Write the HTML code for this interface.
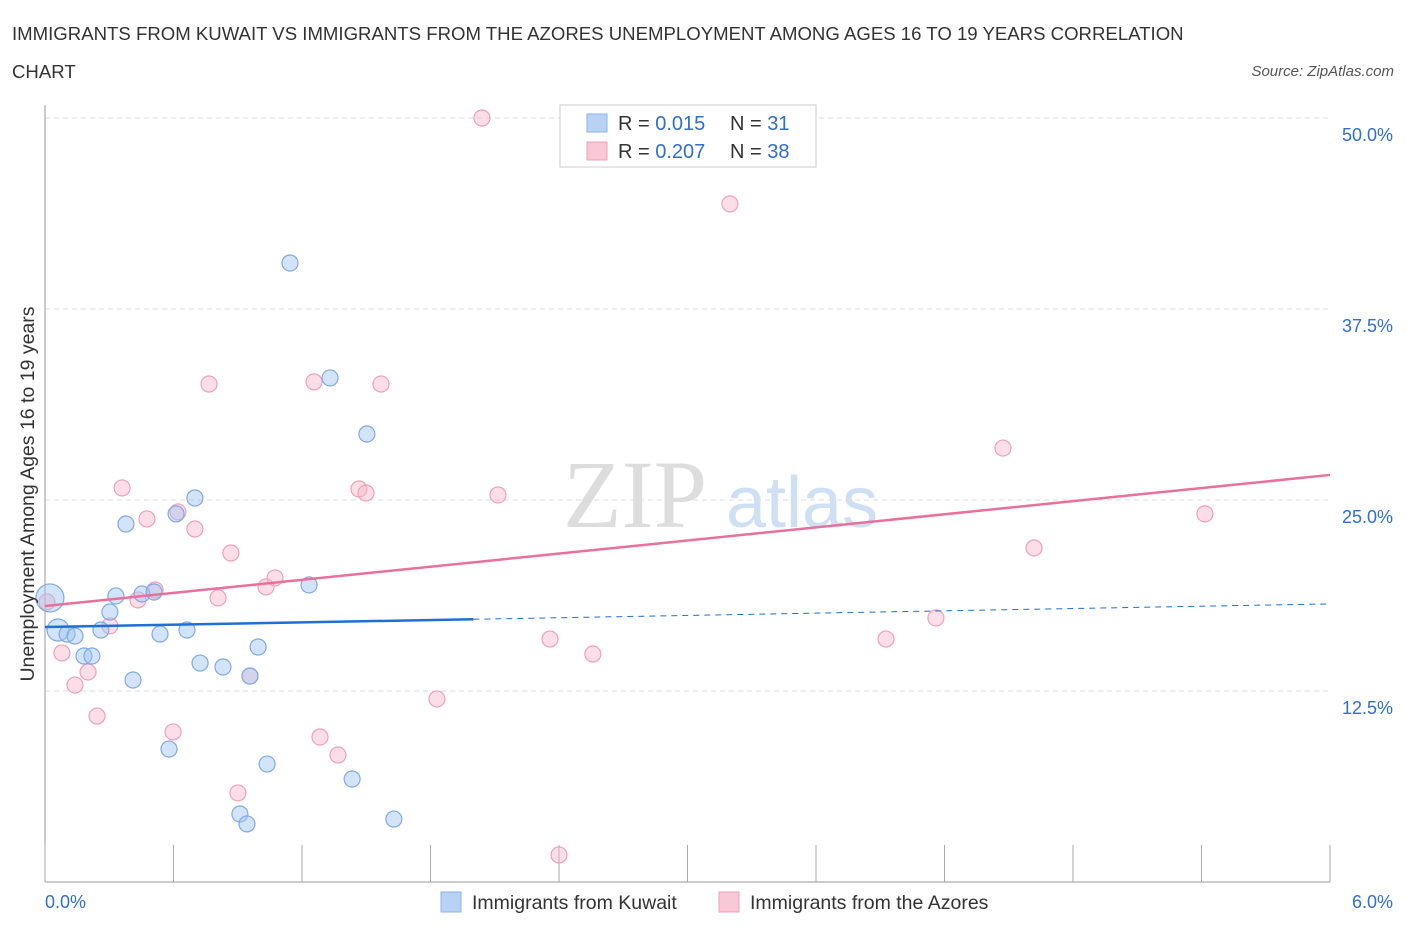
<!DOCTYPE html>
<html><head><meta charset="utf-8"><style>
body{margin:0;background:#fff;font-family:"Liberation Sans",sans-serif;}
svg text{font-family:"Liberation Sans",sans-serif;}
</style></head><body>
<svg id="chart" width="1406" height="930" xmlns="http://www.w3.org/2000/svg">
<text x="12" y="40" font-size="18.6" fill="#333">IMMIGRANTS FROM KUWAIT VS IMMIGRANTS FROM THE AZORES UNEMPLOYMENT AMONG AGES 16 TO 19 YEARS CORRELATION</text>
<text x="12" y="78" font-size="18.6" fill="#333">CHART</text>
<text x="1394" y="76" font-size="15" fill="#555" font-style="italic" text-anchor="end">Source: ZipAtlas.com</text>
<g>
<text x="635" y="527" font-size="96" fill="#ddd" text-anchor="middle" style="font-family:'Liberation Serif',serif">ZIP</text>
<text x="802" y="527" font-size="72" fill="#cfe0f5" text-anchor="middle">atlas</text>
</g>
<g id="grid"></g>
<g id="axes"></g>
<g id="marks"></g>
<text x="34" y="494" font-size="19.5" fill="#333" text-anchor="middle" transform="rotate(-90 34 494)">Unemployment Among Ages 16 to 19 years</text>
<g>
<rect x="560" y="105" width="256" height="62" fill="#fff" stroke="#ccc"/>
<rect x="587" y="114" width="20" height="18" fill="#b8d2f5" stroke="#8ab4e8"/>
<text x="618" y="130" font-size="20" fill="#333">R = <tspan fill="#2f6fd0">0.015</tspan></text>
<text x="730" y="130" font-size="20" fill="#333">N = <tspan fill="#2f6fd0">31</tspan></text>
<rect x="587" y="142" width="20" height="18" fill="#f8c8d6" stroke="#f0a0b8"/>
<text x="618" y="158" font-size="20" fill="#333">R = <tspan fill="#2f6fd0">0.207</tspan></text>
<text x="730" y="158" font-size="20" fill="#333">N = <tspan fill="#2f6fd0">38</tspan></text>
</g>
<g>
<rect x="441" y="892" width="20" height="20" fill="#b8d2f5" stroke="#8ab4e8"/>
<text x="472" y="909" font-size="19.5" fill="#333">Immigrants from Kuwait</text>
<rect x="719" y="892" width="20" height="20" fill="#f8c8d6" stroke="#f0a0b8"/>
<text x="750" y="909" font-size="19.5" fill="#333">Immigrants from the Azores</text>
</g>
</svg>
<script>
const blueX=[0.023,0.061,0.103,0.14,0.182,0.219,0.261,0.303,0.331,0.378,0.411,0.453,0.509,0.537,0.579,0.612,0.663,0.700,0.724,0.831,0.957,0.995,1.037,0.910,0.943,1.144,1.233,1.331,1.434,1.503,1.629];
const blueY=[18.59,16.49,16.23,16.10,14.79,14.79,16.49,17.67,18.72,23.43,13.22,18.85,18.98,16.23,8.70,24.09,16.49,25.13,14.33,14.07,13.48,15.38,7.72,4.45,3.80,40.51,19.44,32.99,6.74,29.32,4.12];
const blueR=[14,11,8,8,8,8,8,8,8,8,8,8,8,8,8,8,8,8,8,8,8,8,8,8,8,8,8,8,8,8,8];
const pinkX=[0.009,0.079,0.140,0.201,0.243,0.303,0.360,0.434,0.476,0.514,0.598,0.621,0.700,0.766,0.808,0.868,0.901,0.957,1.032,1.074,1.256,1.284,1.368,1.466,1.499,1.569,1.830,2.040,2.115,2.358,2.400,2.558,3.198,3.927,4.160,4.473,4.618,5.416];
const pinkY=[18.33,14.99,12.89,13.74,10.86,16.76,25.79,18.46,23.76,19.11,9.82,24.22,23.10,32.59,18.59,21.53,5.83,13.48,19.31,19.90,32.73,9.49,8.31,25.72,25.46,32.59,11.98,50.0,25.33,15.90,1.77,14.92,44.38,15.90,17.28,28.40,21.86,24.09];
const blueTrend=[16.69,18.2];
const pinkTrend=[18.06,26.64];
const yTicks=[12.5,25,37.5,50];
const yTickLabels=["12.5%","25.0%","37.5%","50.0%"];
const xTicks=[0,0.6,1.2,1.8,2.4,3.0,3.6,4.2,4.8,5.4,6.0];

const NS="http://www.w3.org/2000/svg";
const X0=45,X1=1330,Y0=882,Y50=118;
const sx=v=>X0+(v/6)*(X1-X0);
const sy=v=>Y0-(v/50)*(Y0-Y50);
function mk(tag,attrs,parent){const e=document.createElementNS(NS,tag);for(const k in attrs)e.setAttribute(k,attrs[k]);document.getElementById(parent).appendChild(e);return e;}

yTicks.forEach((t,i)=>{
  const g=mk('line',{x1:X0,x2:X1,y1:sy(t),y2:sy(t),stroke:'#ddd','stroke-dasharray':'5,4'},'grid');
  
  
  const l=mk('text',{x:1393,y:sy(t)+23,'font-size':18,fill:'#2f6fd0','text-anchor':'end'},'axes');
  l.textContent=yTickLabels[i];
  
  
});
const ax=mk('line',{x1:X0,x2:X0,y1:105,y2:Y0,stroke:'#999'},'axes');


const bx=mk('line',{x1:X0,x2:X1,y1:Y0,y2:Y0,stroke:'#999'},'axes');


xTicks.forEach(t=>{
  const k=mk('line',{x1:sx(t),x2:sx(t),y1:Y0,y2:845,stroke:'#aaa'},'axes');
  
  
});
const xl0=mk('text',{x:45,y:908,'font-size':18,fill:'#2f6fd0'},'axes');xl0.textContent='0.0%';


const xl1=mk('text',{x:1393,y:908,'font-size':18,fill:'#2f6fd0','text-anchor':'end'},'axes');xl1.textContent='6.0%';



pinkX.forEach((x,i)=>{
  const c=mk('circle',{cx:sx(x),cy:sy(pinkY[i]),r:8,fill:'rgba(246,182,202,0.45)',stroke:'#f0a0b8','stroke-width':1.2},'marks');
  
  
});
blueX.forEach((x,i)=>{
  const c=mk('circle',{cx:sx(x),cy:sy(blueY[i]),r:blueR[i],fill:'rgba(160,196,240,0.45)',stroke:'#7eaae6','stroke-width':1.2},'marks');
  
  
});
const bt=v=>blueTrend[0]+(blueTrend[1]-blueTrend[0])*v/6;
const l1=mk('line',{x1:sx(0),y1:sy(bt(0)),x2:sx(2.0),y2:sy(bt(2.0)),stroke:'#1f6fd6','stroke-width':2.5},'marks');


const l2=mk('line',{x1:sx(2.0),y1:sy(bt(2.0)),x2:sx(6),y2:sy(bt(6)),stroke:'#1f6fd6','stroke-width':1,'stroke-dasharray':'6,5'},'marks');


const l3=mk('line',{x1:sx(0),y1:sy(pinkTrend[0]),x2:sx(6),y2:sy(pinkTrend[1]),stroke:'#e8709a','stroke-width':2.5},'marks');


</script>
</body></html>
